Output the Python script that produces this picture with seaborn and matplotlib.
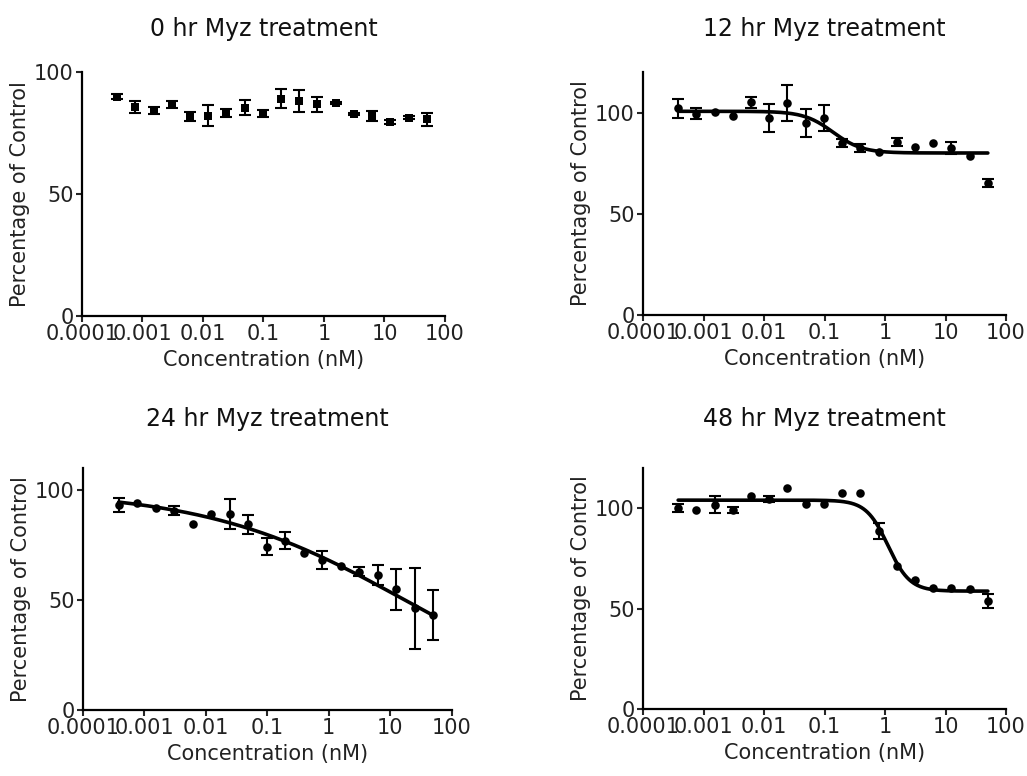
import numpy as np
import pandas as pd
import matplotlib
matplotlib.use("Agg")
import matplotlib.pyplot as plt
import seaborn as sns

# concentrations (nM), 2-fold dilution series
conc = [0.000381, 0.000763, 0.00153, 0.00305, 0.0061, 0.0122, 0.0244, 0.0488, 0.0977,
        0.195, 0.391, 0.781, 1.5625, 3.125, 6.25, 12.5, 25, 50]

mean_0hr = [89.9, 85.8, 84.3, 86.7, 81.8, 82.1, 83.2, 85.4, 83.1,
            89.1, 88.1, 86.7, 87.4, 82.7, 82.0, 79.6, 81.3, 80.6]
err_0hr = [1.0, 2.5, 1.5, 1.5, 2.0, 4.2, 1.5, 3.0, 1.5,
           3.8, 4.6, 3.0, 0.5, 0.5, 2.2, 0.8, 0.5, 2.7]

mean_12hr = [102.0, 99.5, 100.3, 98.3, 105.0, 97.2, 104.7, 94.7, 97.2,
             85.0, 82.3, 80.3, 85.5, 83.2, 84.7, 82.5, 78.3, 65.0]
err_12hr = [4.7, 2.5, 0, 0, 2.8, 7.0, 9.0, 6.8, 6.4,
            2.0, 2.0, 0, 2.0, 0, 0, 3.0, 0, 2.0]

mean_24hr = [93.2, 94.2, 91.8, 90.5, 84.7, 89.1, 89.1, 84.4, 74.2,
             77.0, 71.5, 68.2, 65.5, 62.9, 61.4, 54.8, 46.2, 43.2]
err_24hr = [3.3, 0, 0, 2.0, 0, 0, 6.8, 4.3, 3.8,
            3.9, 0, 4.2, 0, 2.0, 4.5, 9.3, 18.3, 11.4]

mean_48hr = [100.0, 99.2, 101.7, 99.3, 106.0, 104.7, 110.2, 102.2, 102.2,
             107.7, 107.7, 88.8, 71.3, 64.2, 60.5, 60.2, 60.0, 53.8]
err_48hr = [2.0, 0, 4.2, 1.5, 0, 1.5, 0, 0, 0,
            0, 0, 4.0, 0, 0, 0, 0, 0, 3.5]

titles = ["0 hr Myz treatment", "12 hr Myz treatment",
          "24 hr Myz treatment", "48 hr Myz treatment"]
means = [mean_0hr, mean_12hr, mean_24hr, mean_48hr]
errs = [err_0hr, err_12hr, err_24hr, err_48hr]
y_max = [100, 120, 110, 120]

# 4-parameter logistic fit (no fit for 0 hr)
fit_top = [None, 100.6, 100.0, 104.0]
fit_bottom = [None, 80.0, 0.0, 58.7]
fit_ic50 = [None, 0.138, 17.2, 1.12]
fit_hill = [None, 1.8, 0.265, 2.4]

xtick_vals = [0.0001, 0.001, 0.01, 0.1, 1, 10, 100]
xtick_labels = ["0.0001", "0.001", "0.01", "0.1", "1", "10", "100"]

sns.set_style("ticks")
plt.rcParams['font.family'] = ['DejaVu Sans']

fig = plt.figure(figsize=(10.27, 7.76), dpi=100)
positions = [[0.0798, 0.5928, 0.3535, 0.3144],
             [0.6261, 0.5941, 0.3535, 0.3131],
             [0.0808, 0.0851, 0.3590, 0.3119],
             [0.6261, 0.0863, 0.3535, 0.3106]]
title_pad = [26, 26, 30, 30]

for i in range(4):
    ax = fig.add_axes(positions[i])
    df = pd.DataFrame({"conc": conc, "pct": means[i], "err": errs[i]})

    if fit_top[i] is not None:
        xs = np.logspace(np.log10(conc[0]), np.log10(conc[-1]), 300)
        ys = fit_bottom[i] + (fit_top[i] - fit_bottom[i]) / (1 + (xs / fit_ic50[i]) ** fit_hill[i])
        sns.lineplot(x=xs, y=ys, color="black", linewidth=2.6, ax=ax, zorder=2)

    e = df[df["err"] > 0]
    ax.errorbar(e["conc"], e["pct"], yerr=e["err"], fmt="none", ecolor="black",
                elinewidth=1.5, capsize=4, capthick=1.5, zorder=3)
    sns.scatterplot(data=df, x="conc", y="pct", color="black",
                    marker="s" if i == 0 else "o", s=38, edgecolor="black",
                    linewidth=0, ax=ax, zorder=4)

    ax.set_xscale("log")
    ax.set_xlim(0.0001, 100)
    ax.set_ylim(0, y_max[i])
    ax.set_xticks(xtick_vals)
    ax.set_xticklabels(xtick_labels)
    ax.minorticks_off()
    ax.set_yticks([0, 50, 100])
    ax.tick_params(direction="out", length=4, width=1.5, labelsize=15, pad=2,
                   labelcolor="#222222")
    for side in ["left", "bottom"]:
        ax.spines[side].set_linewidth(1.6)
        ax.spines[side].set_color("black")
    sns.despine(ax=ax)
    ax.set_xlabel("Concentration (nM)", fontsize=15, labelpad=4, color="#222222")
    ax.set_ylabel("Percentage of Control", fontsize=15, labelpad=3, color="#222222")
    ax.set_title(titles[i], fontsize=17, pad=title_pad[i], color="#111111")

fig.savefig("out.png", dpi=100)
